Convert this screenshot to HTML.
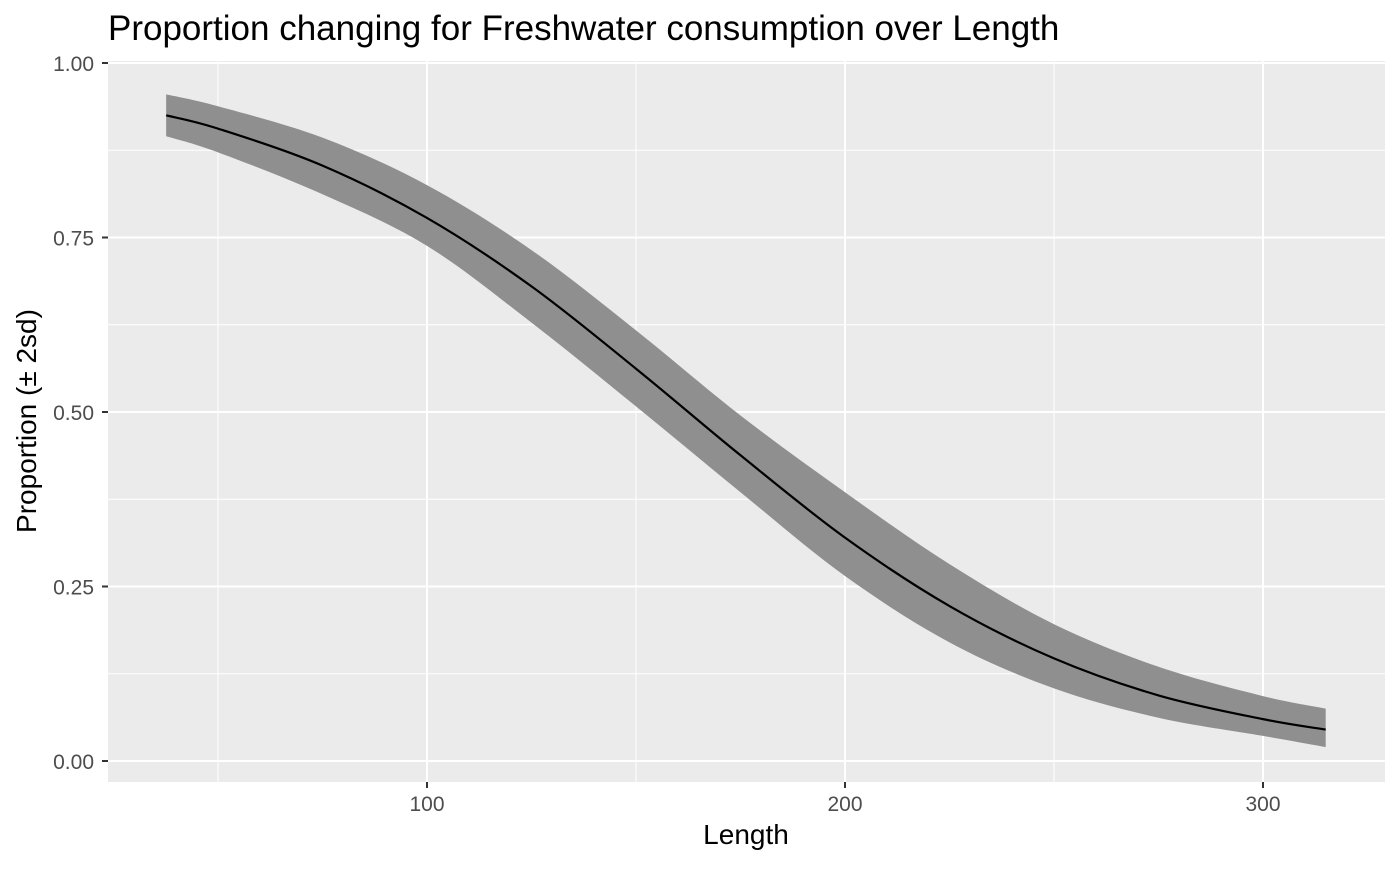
<!DOCTYPE html>
<html><head><meta charset="utf-8"><style>
body{margin:0;background:#fff;font-family:"Liberation Sans",sans-serif;}
svg text{font-family:"Liberation Sans",sans-serif;}
</style></head><body>
<svg id="chart" width="1400" height="865">
<text x="108" y="40" font-size="35" fill="#000">Proportion changing for Freshwater consumption over Length</text>
<rect x="108" y="61" width="1277" height="721" fill="#ebebeb"/>
<g id="grid"></g>
<g id="marks"></g>
<g id="axes"></g>
<text x="746" y="844" font-size="28" text-anchor="middle" fill="#000">Length</text>
<text transform="translate(36,421) rotate(-90)" font-size="28" text-anchor="middle" fill="#000">Proportion (± 2sd)</text>
</svg>
<script>
const lengths=[37.6,50,75,100,125,150,175,200,225,250,275,300,315];
const meanProp=[0.925,0.906,0.853,0.778,0.680,0.562,0.438,0.320,0.222,0.147,0.094,0.060,0.045];
const upperProp=[0.955,0.938,0.893,0.825,0.732,0.617,0.495,0.385,0.282,0.196,0.135,0.093,0.075];
const lowerProp=[0.895,0.872,0.812,0.738,0.628,0.508,0.385,0.265,0.17,0.104,0.062,0.036,0.02];
const xTicks=[100,200,300];
const xMinor=[50,150,250];
const yTicks=[0,0.25,0.5,0.75,1];
const yTickLabels=["0.00","0.25","0.50","0.75","1.00"];
const yMinor=[0.125,0.375,0.625,0.875];

const NS="http://www.w3.org/2000/svg";
const X=v=>427+(v-100)*4.18;
const Y=v=>761-v*698;
const L=108,R=1385,T=61,B=782;
function mk(tag,attrs,parent){const e=document.createElementNS(NS,tag);for(const k in attrs)e.setAttribute(k,attrs[k]);document.getElementById(parent).appendChild(e);return e;}
function smooth(pts){let d="M"+pts[0][0]+","+pts[0][1];for(let i=0;i<pts.length-1;i++){const p0=pts[i-1]||pts[i],p1=pts[i],p2=pts[i+1],p3=pts[i+2]||p2;const c1=[p1[0]+(p2[0]-p0[0])/6,p1[1]+(p2[1]-p0[1])/6],c2=[p2[0]-(p3[0]-p1[0])/6,p2[1]-(p3[1]-p1[1])/6];d+=`C${c1[0]},${c1[1]} ${c2[0]},${c2[1]} ${p2[0]},${p2[1]}`;}return d;}
xMinor.forEach(v=>{const e=mk('line',{x1:X(v),x2:X(v),y1:T,y2:B,stroke:'#fff','stroke-width':1},'grid');

});
yMinor.forEach(v=>{const e=mk('line',{x1:L,x2:R,y1:Y(v),y2:Y(v),stroke:'#fff','stroke-width':1},'grid');

});
xTicks.forEach(v=>{const e=mk('line',{x1:X(v),x2:X(v),y1:T,y2:B,stroke:'#fff','stroke-width':2},'grid');


const t=mk('line',{x1:X(v),x2:X(v),y1:B,y2:B+6,stroke:'#333','stroke-width':2},'axes');


const l=mk('text',{x:X(v),y:B+29,'font-size':21,fill:'#4d4d4d','text-anchor':'middle'},'axes');l.textContent=v;

});
yTicks.forEach((v,i)=>{const e=mk('line',{x1:L,x2:R,y1:Y(v),y2:Y(v),stroke:'#fff','stroke-width':2},'grid');


const t=mk('line',{x1:L-6,x2:L,y1:Y(v),y2:Y(v),stroke:'#333','stroke-width':2},'axes');


const l=mk('text',{x:L-14,y:Y(v)+8,'font-size':21,fill:'#4d4d4d','text-anchor':'end'},'axes');l.textContent=yTickLabels[i];

});
const up=lengths.map((v,i)=>[X(v),Y(upperProp[i])]);
const lo=lengths.map((v,i)=>[X(v),Y(lowerProp[i])]).reverse();
const band=mk('path',{d:smooth(up)+"L"+smooth(lo).slice(1)+"Z",fill:'#8f8f8f'},'marks');


const line=mk('path',{d:smooth(lengths.map((v,i)=>[X(v),Y(meanProp[i])])),fill:'none',stroke:'#000','stroke-width':2.2},'marks');


</script>
</body></html>
